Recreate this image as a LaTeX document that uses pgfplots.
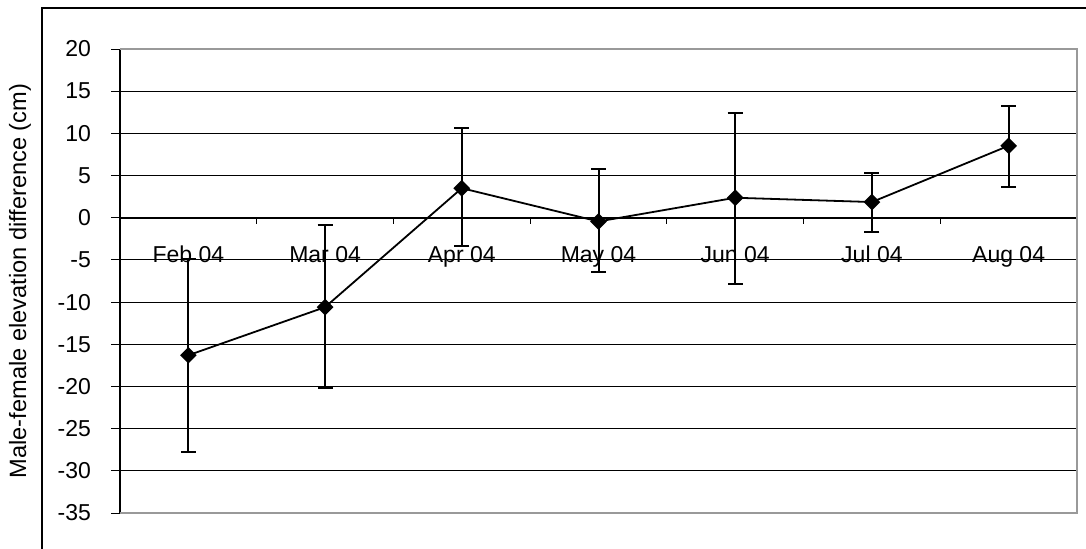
\documentclass[border=0pt]{standalone}
\usepackage{pgfplots}
\pgfplotsset{compat=1.18}
\usepackage{fontspec}
\setmainfont{Liberation Sans}
\begin{document}
\begin{tikzpicture}
\fontsize{11.5}{13}\selectfont
\useasboundingbox (0,0) rectangle (543pt,274pt);
\draw[black, line width=0.8pt] (21pt,-2pt) -- (21pt,270pt) -- (545pt,270pt);
\begin{axis}[
  scale only axis, width=478.5pt, height=232pt,
  at={(60pt,17.5pt)}, anchor=south west,
  xmin=0.5, xmax=7.5, ymin=-35, ymax=20,
  axis x line=middle, axis y line=left,
  axis line style={-, black, line width=0.8pt},
  tick align=outside,
  xtick={1,2,3,4,5,6,7},
  xticklabels={Feb 04,Mar 04,Apr 04,May 04,Jun 04,Jul 04,Aug 04},
  minor xtick={1.5,2.5,3.5,4.5,5.5,6.5,7.5},
  major x tick style={draw=none},
  minor x tick style={black, line width=0.5pt},
  minor tick length=3pt,
  major tick length=4.5pt,
  ytick={-35,-30,-25,-20,-15,-10,-5,0,5,10,15,20},
  yticklabels={-35,-30,-25,-20,-15,-10,-5,0,5,10,15,20},
  ytick style={black, line width=0.5pt},
  ymajorgrids, grid style={black, line width=0.5pt},
  tick label style={font=\fontsize{11.5}{13}\selectfont},
  xticklabel style={yshift=-5.75pt},
  yticklabel style={xshift=-6pt},
  ylabel={Male-female elevation difference (cm)},
  every axis y label/.style={at={(axis description cs:-0.1045,0.5)}, rotate=90, anchor=center, font=\fontsize{11.8}{14}\selectfont},
  clip=false,
]
\draw[gray!80, line width=1pt] (rel axis cs:0,1) -- (rel axis cs:1,1) -- (rel axis cs:1,0) -- (rel axis cs:0,0);
\addplot[black, line width=0.9pt, mark=square*, mark options={rotate=45, mark size=2.5pt, solid, fill=black},
  error bars/.cd, y dir=both, y explicit,
  error bar style={line width=1pt, black},
  error mark options={rotate=90, mark size=3.75pt, line width=1pt, black}]
  table[x=x, y=y, y error plus=ep, y error minus=em] {
x y ep em
1 -16.3 11.4 11.5
2 -10.6 9.7 9.6
3 3.5 7.1 6.9
4 -0.44 6.2 6.0
5 2.37 10.0 10.2
6 1.86 3.5 3.5
7 8.53 4.7 4.9
};
\end{axis}
\end{tikzpicture}
\end{document}
